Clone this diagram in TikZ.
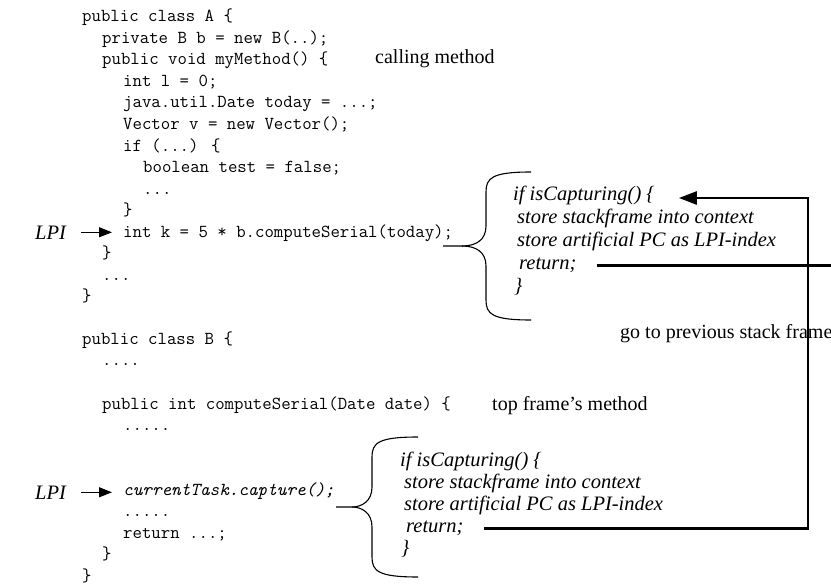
\documentclass[tikz,border=0pt]{standalone}
\usepackage{fontspec}
\setmainfont{Liberation Serif}
\usetikzlibrary{arrows.meta,calc}
\tikzset{code line/.style={anchor=base west, inner sep=0pt, font=\ttfamily\fontsize{18.3}{20}\selectfont}}
\tikzset{remark/.style={anchor=base west, inner sep=0pt, font=\fontsize{20}{22}\selectfont}}
\tikzset{capture text/.style={remark, font=\fontsize{20.5}{23}\selectfont\itshape}}
\tikzset{brace/.style={draw=black, line width=1.1pt}}
\tikzset{frame path/.style={draw=black, line width=2.6pt}}
\tikzset{lpi arrow/.style={-{Triangle[length=13pt,width=10pt]}, line width=1.1pt}}

\begin{document}
\begin{tikzpicture}[x=1pt, y=-1pt]
\useasboundingbox (0,0) rectangle (831,586);
% class A
\node[code line] (clsA) at (82,22) {public class A \{};
\node[code line] (fldB) at (102,43.5) {private B b = new B(..);};
\node[code line] (myM) at (102,65) {public void myMethod() \{};
\node[code line] (intL) at (123,86.5) {int l = 0;};
\node[code line] (today) at (123,108) {java.util.Date today = ...;};
\node[code line] (vec) at (123,129.5) {Vector v = new Vector();};
\node[code line] (ifA) at (123,151) {if (...) \{};
\node[code line] (bool) at (143,172.5) {boolean test = false;};
\node[code line] (dotsIf) at (143,194) {...};
\node[code line] (closeIf) at (123,215.5) {\}};
\node[code line] (callK) at (123,237) {int k = 5 * b.computeSerial(today);};
\node[code line] (closeM) at (102,258.5) {\}};
\node[code line] (dotsA) at (102,280) {...};
\node[code line] (closeA) at (82,301.5) {\}};
% class B
\node[code line] (clsB) at (82,344) {public class B \{};
\node[code line] (dotsB) at (102,365.5) {....};
\node[code line] (serial) at (102,409) {public int computeSerial(Date date) \{};
\node[code line] (dotsS) at (123,430.5) {.....};
\node[code line, font=\ttfamily\fontsize{18.3}{20}\selectfont\itshape] (capture) at (123,495) {currentTask.capture();};
\node[code line] (dotsS2) at (123,516.5) {.....};
\node[code line] (retS) at (123,538) {return ...;};
\node[code line] (closeS) at (102,559.5) {\}};
\node[code line] (closeB) at (82,581) {\}};
% labels
\node[remark] (calling) at (375,64) {calling method};
\node[remark] (topframe) at (492,410) {top frame’s method};
\node[remark] (previous) at (620,338) {go to previous stack frame};
\node[capture text] (lpiA) at (35,239) {LPI};
\node[capture text] (lpiB) at (35,499) {LPI};
% capture code of calling method
\node[capture text] (ifCapA) at (513,200.5) {if isCapturing() \{};
\node[capture text] (storeA) at (517,223.5) {store stackframe into context};
\node[capture text] (pcA) at (517,246.5) {store artificial PC as LPI-index};
\node[capture text] (retA) at (519,269.5) {return;};
\node[capture text] (endA) at (514,292.5) {\}};
% capture code of top frame
\node[capture text] (ifCapB) at (400,466.5) {if isCapturing() \{};
\node[capture text] (storeB) at (404,488.5) {store stackframe into context};
\node[capture text] (pcB) at (404,510.5) {store artificial PC as LPI-index};
\node[capture text] (retB) at (406,532.5) {return;};
\node[capture text] (endB) at (401,554.5) {\}};
% braces
\draw[brace] (531,172) .. controls (492,172) and (486,178) .. (486,192) -- (486,226)
  .. controls (486,240) and (476,246) .. (462,246) -- (443,246);
\draw[brace] (462,246) .. controls (476,246) and (486,252) .. (486,266) -- (486,300)
  .. controls (486,314) and (492,320) .. (531,320);
\draw[brace] (418,437) .. controls (378,437) and (372,443) .. (372,457) -- (372,487)
  .. controls (372,501) and (362,507) .. (352,507) -- (336,507);
\draw[brace] (352,507) .. controls (362,507) and (372,513) .. (372,527) -- (372,557)
  .. controls (372,571) and (378,577) .. (418,577);
% arrows
\coordinate (edge) at (840,0);
\coordinate (turn) at (808,198);
\draw[lpi arrow, shorten <=15pt, shorten >=11pt] (lpiA.east) -- (lpiA.east -| callK.west);
\draw[lpi arrow, shorten <=15pt, shorten >=11pt] (lpiB.east) -- (lpiB.east -| capture.west);
\draw[frame path, shorten <=20pt] (retA.east) -- (retA.east -| edge);
\draw[frame path, shorten <=20pt, shorten >=24pt, -{Triangle[length=18pt,width=13pt]}]
  (retB.east) -| (turn) -- (turn -| ifCapA.east);
\end{tikzpicture}
\end{document}
